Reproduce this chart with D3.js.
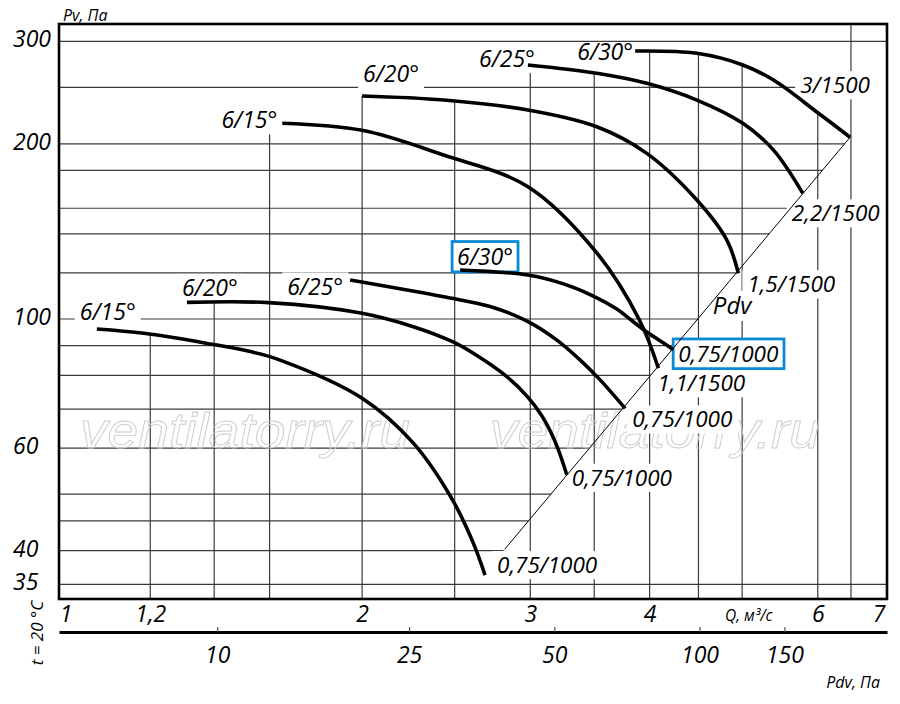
<!DOCTYPE html>
<html><head><meta charset="utf-8">
<script src="https://cdn.jsdelivr.net/npm/d3@7"></script>
<style>
html,body{margin:0;padding:0;background:#fff;}
svg{display:block;font-family:"Open Sans",sans-serif;}
</style></head><body>
<svg id="chart" width="900" height="704"></svg>
<script>
// ---------------- data ----------------
const qTicks = [1, 1.2, 2, 3, 4, 6, 7];
const qTickLabels = ["1", "1,2", "2", "3", "4", "6", "7"];
const pTicks = [300, 200, 100, 60, 40, 35];
const pTickLabels = ["300", "200", "100", "60", "40", "35"];
const pdvTicks = [10, 25, 50, 100, 150];
const pdvTickLabels = ["10", "25", "50", "100", "150"];
const hGrid = [300, 250, 200, 180, 155, 140, 120, 100, 90, 80, 70, 60, 50, 45, 40, 35];
const hGridFull = [300, 35];
const vGrid = [1.2, 1.4, 1.6, 2, 2.5, 3, 3.5, 4, 4.5, 5, 6, 6.5];
const vGridTopOverride = { 1.6: 208 };

const upperAngles = ["6/15°", "6/20°", "6/25°", "6/30°"];
const upperMotors = ["1,1/1500", "1,5/1500", "2,2/1500", "3/1500"];
const lowerAngles = ["6/15°", "6/20°", "6/25°", "6/30°"];
const lowerMotors = ["0,75/1000", "0,75/1000", "0,75/1000", "0,75/1000"];

// Q (m3/s), Pv (Pa)
const upper15 = [[1.65,217],[2.0,211],[2.435,191.3],[2.983,168.8],[3.522,129.9],[3.903,99.6],[4.086,82.3]];
const upper20 = [[2.0,241.6],[2.435,237.8],[2.983,228.7],[3.522,214],[3.973,192.6],[4.483,160.1],[4.818,136.7],[4.955,119.8]];
const upper25 = [[2.983,273.2],[3.522,264.4],[3.973,254.1],[4.483,237.8],[5.008,216.9],[5.393,195.1],[5.788,164.4]];
const upper30 = [[3.863,288.7],[4.483,286.1],[5.008,273.2],[5.393,257.4],[6.01,225.7],[6.487,205.3]];

const lower15 = [[1.055,96.1],[1.182,94.5],[1.377,90.8],[1.527,87.9],[1.641,85.0],[2.0,73.1],[2.263,61.2],[2.487,48.9],[2.615,41.2],[2.69,36.3]];
const lower20 = [[1.311,106.8],[1.596,106.7],[2.0,102.3],[2.263,97.0],[2.487,91.4],[2.615,87.3],[2.835,79.6],[2.976,73.7],[3.086,68.1],[3.186,61.5],[3.276,54.0]];
const lower25 = [[1.943,116.7],[2.435,109.2],[2.723,105.1],[2.987,98.9],[3.199,92.0],[3.384,85.0],[3.55,78.6],[3.771,70.2]];
const lower30 = [[2.533,121.4],[2.983,119.0],[3.25,114.9],[3.493,109.5],[3.696,104.0],[3.826,99.6],[3.973,95.0],[4.173,90.1],[4.234,88.5]];

const pdvLine = [[2.82, 40.2], [6.487, 205.3]];
const pdvLabelP = 101;

const upperCurves = [upper15, upper20, upper25, upper30];
const lowerCurves = [lower15, lower20, lower25, lower30];

// ---------------- layout ----------------
const L = { left: 59, right: 887, top: 24, bottom: 599, axis2: 632 };
const labelLayout = {
  upperStart: [{a:"end",dx:-5,dy:5},{a:"start",dx:1,dy:-14},{a:"end",dx:7,dy:2},{a:"end",dx:-2,dy:9}],
  upperEnd:   [{a:"start",dx:-1,dy:23},{a:"start",dx:9,dy:19},{a:"start",dx:-11,dy:28},{a:"start",dx:-50,dy:-44}],
  lowerStart: [{a:"start",dx:-17,dy:-9},{a:"start",dx:-5,dy:-6},{a:"end",dx:-7,dy:15},{a:"start",dx:-3,dy:-5}],
  lowerEnd:   [{a:"start",dx:12,dy:-2},{a:"start",dx:5,dy:11},{a:"start",dx:7,dy:19},{a:"start",dx:5,dy:12}],
  boxedLower: 3
};
const xTickDx = [-9, 0, 0, 0, 0, 0, -3];
const BLUE = "#0a8ad6";

const x = d3.scaleLog().domain([0.963, 7.09]).range([L.left, L.right]);
const y = d3.scaleLog().domain([33.03, 321.3]).range([L.bottom, L.top]);
const pdv = d3.scaleLog().domain([4.70, 244.8]).range([L.left, L.right]);

const svg = d3.select("#chart");
const gGrid = svg.append("g");
const gBg = svg.append("g");
const gTop = svg.append("g");
const gCurves = svg.append("g");
const gText = svg.append("g");

function interpCurve(c, q) {
  if (q < c[0][0] - 1e-9 || q > c[c.length - 1][0] + 1e-9) return null;
  for (let i = 0; i < c.length - 1; i++) {
    const a = c[i], b = c[i + 1];
    if (q >= a[0] - 1e-9 && q <= b[0] + 1e-9) {
      const t = (Math.log(q) - Math.log(a[0])) / (Math.log(b[0]) - Math.log(a[0]));
      return Math.exp(Math.log(a[1]) + t * (Math.log(b[1]) - Math.log(a[1])));
    }
  }
  return null;
}
function pdvQatP(p) {
  const [a, b] = pdvLine;
  const t = (Math.log(p) - Math.log(a[1])) / (Math.log(b[1]) - Math.log(a[1]));
  return Math.exp(Math.log(a[0]) + t * (Math.log(b[0]) - Math.log(a[0])));
}

// ---------------- grid ----------------
const allCurves = upperCurves.concat(lowerCurves);
vGrid.forEach(q => {
  let topP;
  if (vGridTopOverride[q] !== undefined) topP = vGridTopOverride[q];
  else {
    const vals = allCurves.map(c => interpCurve(c, q)).filter(v => v !== null);
    topP = vals.length ? d3.max(vals) : y.domain()[1];
  }
  gGrid.append("line")
    .attr("x1", x(q)).attr("x2", x(q))
    .attr("y1", y(topP)).attr("y2", L.bottom)
    .attr("stroke", "#3a3a3a").attr("stroke-width", 1.2);
});
hGrid.forEach(p => {
  const full = hGridFull.includes(p);
  const x2 = full ? L.right : x(Math.min(pdvQatP(p), pdvLine[1][0]));
  (full ? gTop : gGrid).append("line")
    .attr("x1", L.left).attr("x2", x2)
    .attr("y1", y(p)).attr("y2", y(p))
    .attr("stroke", "#3a3a3a").attr("stroke-width", 1.2);
});

[80, 490].forEach(wx => {
  gGrid.append("text").text("ventilatorry.ru")
    .attr("x", wx).attr("y", 448)
    .attr("textLength", 330).attr("lengthAdjust", "spacingAndGlyphs")
    .attr("font-family", "Liberation Sans, Arial, sans-serif")
    .attr("font-style", "italic").attr("font-size", 50)
    .attr("fill", "none").attr("stroke", "#cccccc").attr("stroke-width", 0.9);
});

gTop.append("rect")
  .attr("x", L.left).attr("y", L.top)
  .attr("width", L.right - L.left).attr("height", L.bottom - L.top)
  .attr("fill", "none").attr("stroke", "#000").attr("stroke-width", 2.6);

// ---------------- curves ----------------
const line = d3.line().x(d => x(d[0])).y(d => y(d[1])).curve(d3.curveCatmullRom.alpha(0.5));
allCurves.forEach(c => {
  gCurves.append("path").attr("d", line(c))
    .attr("fill", "none").attr("stroke", "#000").attr("stroke-width", 3.6);
});
gCurves.append("path").attr("d", d3.line().x(d => x(d[0])).y(d => y(d[1]))(pdvLine))
  .attr("fill", "none").attr("stroke", "#000").attr("stroke-width", 1);

// ---------------- labels ----------------
function label(txt, px, py, anchor, size, boxed) {
  const t = gText.append("text").text(txt)
    .attr("x", px).attr("y", py).attr("text-anchor", anchor)
    .attr("font-style", "italic").attr("font-size", size).attr("fill", "#000");
  const b = t.node().getBBox();
  if (boxed) {
    gBg.append("rect").attr("x", b.x - 5).attr("y", py - size * 1.02)
      .attr("width", b.width + 10).attr("height", size * 1.32)
      .attr("fill", "#fff").attr("stroke", BLUE).attr("stroke-width", 2.8);
  } else {
    gBg.append("rect").attr("x", b.x - 5).attr("y", py - size * 0.98)
      .attr("width", b.width + 10).attr("height", size * 1.25)
      .attr("fill", "#fff");
  }
  return t;
}
upperCurves.forEach((c, i) => {
  const s = c[0], e = c[c.length - 1];
  const ls = labelLayout.upperStart[i], le = labelLayout.upperEnd[i];
  label(upperAngles[i], x(s[0]) + ls.dx, y(s[1]) + ls.dy, ls.a, 23, false);
  label(upperMotors[i], x(e[0]) + le.dx, y(e[1]) + le.dy, le.a, 22.5, false);
});
lowerCurves.forEach((c, i) => {
  const s = c[0], e = c[c.length - 1];
  const ls = labelLayout.lowerStart[i], le = labelLayout.lowerEnd[i];
  const boxed = i === labelLayout.boxedLower;
  label(lowerAngles[i], x(s[0]) + ls.dx, y(s[1]) + ls.dy, ls.a, 23, boxed);
  label(lowerMotors[i], x(e[0]) + le.dx, y(e[1]) + le.dy, le.a, 22.5, boxed);
});
label("Pdv", x(pdvQatP(pdvLabelP)) + 13, y(pdvLabelP) - 2, "start", 24, false);

// ---------------- axes ----------------
const xAxis = d3.axisBottom(x).tickValues(qTicks)
  .tickFormat((d, i) => qTickLabels[i]).tickSize(0).tickPadding(7);
const gx = svg.append("g").attr("transform", `translate(0,${L.bottom})`).call(xAxis);
gx.select(".domain").remove();
gx.selectAll("text").attr("font-family", "Open Sans, sans-serif")
  .attr("font-style", "italic").attr("font-size", 23).attr("fill", "#000")
  .attr("dx", (d, i) => xTickDx[i]);

svg.append("g").selectAll("text").data(pTicks).join("text")
  .attr("x", 13).attr("y", d => y(d) + 6)
  .attr("font-style", "italic").attr("font-size", 23)
  .text((d, i) => pTickLabels[i]);

const pAxis = d3.axisBottom(pdv).tickValues(pdvTicks)
  .tickFormat((d, i) => pdvTickLabels[i]).tickSize(-5).tickSizeOuter(0).tickPadding(15);
const gp = svg.append("g").attr("transform", `translate(0,${L.axis2})`).call(pAxis);
gp.select(".domain").attr("stroke", "#000").attr("stroke-width", 3);
gp.selectAll(".tick line").attr("stroke", "#555").attr("stroke-width", 1.2);
gp.selectAll("text").attr("font-family", "Open Sans, sans-serif")
  .attr("font-style", "italic").attr("font-size", 23).attr("fill", "#000");

svg.append("text").attr("x", 63).attr("y", 21).attr("font-style", "italic")
  .attr("font-size", 16).text("Pv, Па");
svg.append("text").attr("x", 725).attr("y", 621).attr("font-style", "italic")
  .attr("font-size", 15.5).text("Q, м³/с");
svg.append("text").attr("x", 880).attr("y", 688).attr("text-anchor", "end")
  .attr("font-style", "italic").attr("font-size", 16).text("Pdv, Па");
svg.append("text").attr("transform", "translate(43,633) rotate(-90)")
  .attr("text-anchor", "middle").attr("font-style", "italic")
  .attr("font-size", 17).text("t = 20 °C");
</script>
</body></html>
